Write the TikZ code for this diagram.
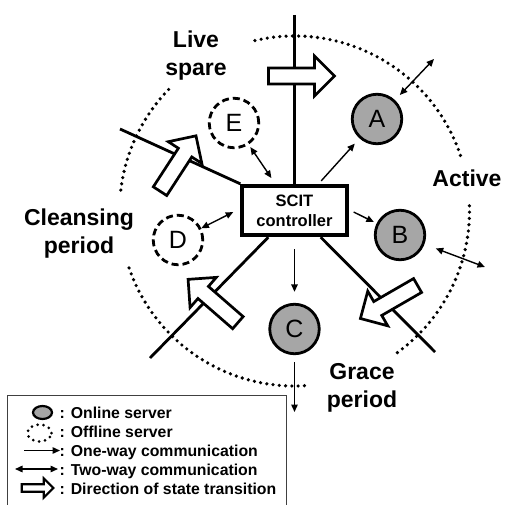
\documentclass[tikz,border=0pt]{standalone}
\usepackage{fontspec}
\setmainfont{Liberation Sans}
\usetikzlibrary{arrows.meta,calc}

\definecolor{srvgray}{RGB}{166,166,166}

\tikzset{
  % white block arrow showing the direction of a state transition
  fatarrow/.pic={
    \path[draw, fill=white, line join=miter]
      (-33,-8) -- (13,-8) -- (13,-20) -- (33,0) -- (13,20) -- (13,8) -- (-33,8) -- cycle;
  },
  phase/.style={font=\fontsize{23}{28}\selectfont\bfseries, align=center, inner sep=0pt},
  ring/.style={line width=3.6pt, dash pattern=on 0pt off 6.3pt, line cap=round},
  spoke/.style={line width=2.8pt},
  server/.style={circle, draw, line width=2.8pt, minimum size=49.5pt, inner sep=0pt,
                 font=\fontsize{25}{25}\selectfont},
  online/.style={server, fill=srvgray},
  offline/.style={server, fill=white, dash pattern=on 7pt off 4pt},
  ctrlbox/.style={draw, line width=3.8pt, fill=white, minimum width=104.5pt, minimum height=49.5pt,
                  inner sep=0pt, align=center, font=\fontsize{16.5}{20}\selectfont\bfseries},
  tip/.tip={Triangle[length=7.5pt,width=6.5pt]},
  oneway/.style={line width=1.4pt, -tip},
  twoway/.style={line width=1.4pt, tip-tip},
  legendtext/.style={font=\fontsize{15.8}{19}\selectfont\bfseries, anchor=base west, inner sep=0pt},
}

\begin{document}
\begin{tikzpicture}[x=1pt, y=1pt]
  \fill[white] (0,0) rectangle (505,504);
  \useasboundingbox (0,0) rectangle (505,504);

  % dotted ring of the life cycle, broken where the phase names sit
  \coordinate (hub) at (294.5,293);
  \draw[ring] (hub) ++(18.5:175) arc[start angle=18.5, end angle=105, radius=175];
  \draw[ring] (hub) ++(136:175) arc[start angle=136, end angle=174, radius=175];
  \draw[ring] (hub) ++(199:175) arc[start angle=199, end angle=274, radius=175];
  \draw[ring] (hub) ++(-54:175) arc[start angle=-54, end angle=3, radius=175];

  % controller and servers
  \node[ctrlbox] (ctrl) at (294.5,293.5) {SCIT\\controller};
  \node[online]  (A) at (377,385) {A};
  \node[online]  (B) at (400,269) {B};
  \node[online]  (C) at (294.5,175) {C};
  \node[offline] (D) at (178,264) {D};
  \node[offline] (E) at (234,381) {E};

  % spokes separating the phases
  \coordinate (topend) at (294.5,489);
  \coordinate (ulend)  at (120,375);
  \coordinate (llend)  at (150,146);
  \coordinate (lrend)  at (435,152);
  \draw[spoke] (topend) -- (ctrl.north);
  \draw[spoke] (ulend) -- (ctrl.north west);
  \draw[spoke] (llend) -- ($(ctrl.south west)+(28,0)$);
  \draw[spoke] (lrend) -- ($(ctrl.south east)+(-28,0)$);

  % state transitions, clockwise
  \pic[line width=2.7pt] at (301.5,428) {fatarrow};
  \pic[line width=2.7pt, rotate=57]  at (178,340.5) {fatarrow};
  \pic[line width=2.7pt, rotate=139] at (213,203) {fatarrow};
  \pic[line width=2.7pt, rotate=210] at (389,202) {fatarrow};

  % communication
  \draw[oneway, shorten <=4pt, shorten >=7pt] (ctrl) -- (A);
  \draw[oneway, shorten >=3pt] ($(ctrl.east)+(5,-1.5)$) -- (B);
  \draw[oneway, shorten <=12pt, shorten >=11pt] (ctrl.south) -- (C);
  \coordinate (cout) at (294.5,92);
  \draw[oneway, shorten <=7pt] (C) -- (cout);
  \draw[twoway, shorten <=3pt, shorten >=7pt] (E) -- ($(ctrl.north west)+(35,0)$);
  \draw[twoway, shorten >=8pt] (D) -- ($(ctrl.west)+(0,2)$);
  \coordinate (aout) at (434,445);
  \draw[twoway, shorten <=7pt] (A) -- (aout);
  \coordinate (bout) at (485,237);
  \draw[twoway, shorten <=12pt] (B) -- (bout);

  % phase names
  \node[phase, anchor=north] (live)    at (196,473.5) {Live\\spare};
  \node[phase, anchor=north] (cleanse) at (79,295.5)  {Cleansing\\period};
  \node[phase, anchor=base]  (active)  at (467,317)   {Active};
  \node[phase, anchor=north] (grace)   at (362,140.5) {Grace\\period};

  % legend
  \draw[line width=1pt, black!75] (7,-5) -- (7,108.5) -- (286,108.5) -- (286,-5);
  \filldraw[fill=srvgray, draw=black, line width=2.2pt] (42.5,91.5) ellipse[x radius=9.5, y radius=6.5];
  \draw[line width=3pt, dash pattern=on 0pt off 6pt, line cap=round] (39.5,71) ellipse[x radius=12, y radius=8.5];
  \coordinate (l1a) at (24,53.5);
  \coordinate (l1b) at (60,53.5);
  \draw[oneway] (l1a) -- (l1b);
  \coordinate (l2a) at (15,35);
  \coordinate (l2b) at (58,35);
  \draw[twoway] (l2a) -- (l2b);
  \pic[line width=2.2pt, scale=0.48] at (37.5,16) {fatarrow};
  \node[legendtext] (t1) at (59.5,86) {: Online server};
  \node[legendtext] (t2) at (59.5,67) {: Offline server};
  \node[legendtext] (t3) at (59.5,48) {: One-way communication};
  \node[legendtext] (t4) at (59.5,29) {: Two-way communication};
  \node[legendtext] (t5) at (59.5,10) {: Direction of state transition};
\end{tikzpicture}
\end{document}
